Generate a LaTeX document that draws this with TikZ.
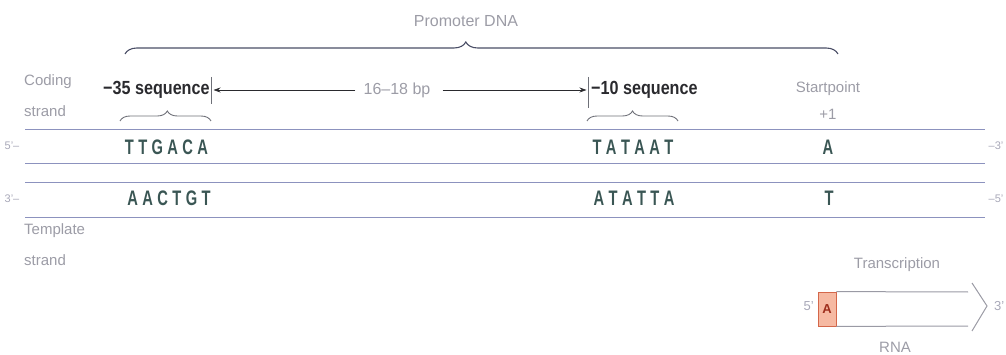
\documentclass[tikz,border=0pt]{standalone}
\usepackage{fontspec}
\setmainfont{Liberation Sans}
\newfontfamily\seqfont[FakeStretch=0.85]{Liberation Sans}
\newfontfamily\basefont[FakeStretch=0.7]{Liberation Sans}
\usetikzlibrary{arrows.meta,decorations.pathreplacing}

\definecolor{labelgrey}{HTML}{9C9CA6}
\definecolor{endgrey}{HTML}{A8A8B8}
\definecolor{strandline}{HTML}{8C92BE}
\definecolor{basecol}{HTML}{3A5654}
\definecolor{bracecol}{HTML}{4A4E66}
\definecolor{smallbrace}{HTML}{6E7078}
\definecolor{seqcol}{HTML}{2A2A2E}
\definecolor{afill}{HTML}{F6B9A2}
\definecolor{aedge}{HTML}{D4674A}
\definecolor{atext}{HTML}{9E2E1C}
\definecolor{rnaline}{HTML}{9A9AA4}

\newcommand\basegap{\kern4.4pt}

\tikzset{
  lightlabel/.style={inner sep=0pt, text=labelgrey, font=\fontsize{15}{17}\selectfont},
  endlabel/.style={inner sep=0pt, text=endgrey, font=\fontsize{11}{13}\selectfont},
  seqlabel/.style={inner sep=0pt, text=seqcol, font=\seqfont\bfseries\fontsize{19}{21}\selectfont},
  baselabel/.style={inner sep=0pt, text=basecol, font=\basefont\bfseries\fontsize{21}{23}\selectfont},
  strand/.style={draw=strandline, line width=0.9pt},
  bigbrace/.style={draw=bracecol, line width=1.1pt,
    decorate, decoration={brace, amplitude=12pt, aspect=0.478}},
  seqbrace/.style={draw=smallbrace, line width=0.9pt,
    decorate, decoration={brace, amplitude=10pt}},
  ticks/.style={draw=smallbrace, line width=0.8pt},
  spacing/.style={draw=seqcol, line width=0.8pt, -{Stealth[length=7pt,width=5pt]}},
  rnaedge/.style={draw=rnaline, line width=1pt},
  startbox/.style={draw=aedge, fill=afill, line width=0.8pt, minimum width=18pt,
    minimum height=34pt, inner sep=0pt, text=atext, font=\bfseries\fontsize{13}{15}\selectfont}
}

\begin{document}
\begin{tikzpicture}[x=1pt,y=-1pt]
\useasboundingbox (0,0) rectangle (1006,355);

% promoter region brace
\node[lightlabel, font=\fontsize{16}{18}\selectfont] (promoter) at (466,21) {Promoter DNA};
\coordinate (pL) at (125,54);
\coordinate (pR) at (838,54);
\draw[bigbrace] (pL) -- (pR);

% strand names
\node[lightlabel, anchor=west] (coding1) at (24,82) {Coding};
\node[lightlabel, anchor=west] (coding2) at (24,111) {strand};
\node[lightlabel, anchor=west] (templ1) at (24,231) {Template};
\node[lightlabel, anchor=west] (templ2) at (24,260) {strand};

% consensus sequence labels and spacing
\node[seqlabel, anchor=west] (s35) at (103,90) {−35 sequence};
\node[seqlabel, anchor=west] (s10) at (591,90) {−10 sequence};
\draw[ticks] (211,77) coordinate (t35a) -- (211,104) coordinate (t35b);
\draw[ticks] (588,77) coordinate (t10a) -- (588,108) coordinate (t10b);
\coordinate (t35) at (213.5,90);
\coordinate (t10) at (586.5,90);
\node[lightlabel, font=\fontsize{16}{18}\selectfont] (bp) at (397,90) {16–18 bp};
\draw[spacing] ([xshift=-8pt]bp.west) -- (t35);
\draw[spacing] ([xshift=12pt]bp.east) -- (t10);

% start point
\node[lightlabel] (start) at (828,89) {Startpoint};
\node[lightlabel] (plus1) at (828,114) {+1};

% braces over the boxed elements
\coordinate (b35L) at (120,121);
\coordinate (b35R) at (211,121);
\coordinate (b10L) at (587,121);
\coordinate (b10R) at (678,121);
\draw[seqbrace, decoration={aspect=0.52}] (b35L) -- (b35R);
\draw[seqbrace, decoration={aspect=0.5}] (b10L) -- (b10R);

% DNA strands
\draw[strand] (25,129) -- (985,129);
\draw[strand] (25,163) -- (985,163);
\draw[strand] (25,182) -- (985,182);
\draw[strand] (25,217) -- (985,217);

\node[endlabel] (c5) at (12,146) {5'–};
\node[endlabel] (c3) at (996,146) {–3'};
\node[endlabel] (t3) at (12,199) {3'–};
\node[endlabel] (t5) at (996,199) {–5'};

% bases
\node[baselabel] (cod35) at (166.5,147) {T\basegap T\basegap G\basegap A\basegap C\basegap A};
\node[baselabel] (tem35) at (169,198) {A\basegap A\basegap C\basegap T\basegap G\basegap T};
\node[baselabel] (cod10) at (633,147) {T\basegap A\basegap T\basegap A\basegap A\basegap T};
\node[baselabel] (tem10) at (634,198) {A\basegap T\basegap A\basegap T\basegap T\basegap A};
\node[baselabel] (codst) at (828,147) {A};
\node[baselabel] (temst) at (829,198) {T};

% RNA transcript
\node[lightlabel] (transc) at (897,265) {Transcription};
\node[startbox] (rnaA) at (827,309) {A};
\coordinate (rTop) at (968,292);
\coordinate (rBot) at (968,326);
\draw[rnaedge] (rnaA.north east) -- (rTop);
\draw[rnaedge] (rnaA.south east) -- (rBot);
\coordinate (hTop) at (972,283);
\coordinate (hTip) at (987,306);
\coordinate (hBot) at (972,331);
\draw[rnaedge] (hTop) -- (hTip) -- (hBot);
\node[endlabel, font=\fontsize{13}{15}\selectfont, anchor=east] (r5) at (814,306) {5'};
\node[endlabel, font=\fontsize{13}{15}\selectfont, anchor=west] (r3) at (994,306) {3'};
\node[lightlabel] (rna) at (895,347) {RNA};
\end{tikzpicture}
\end{document}
